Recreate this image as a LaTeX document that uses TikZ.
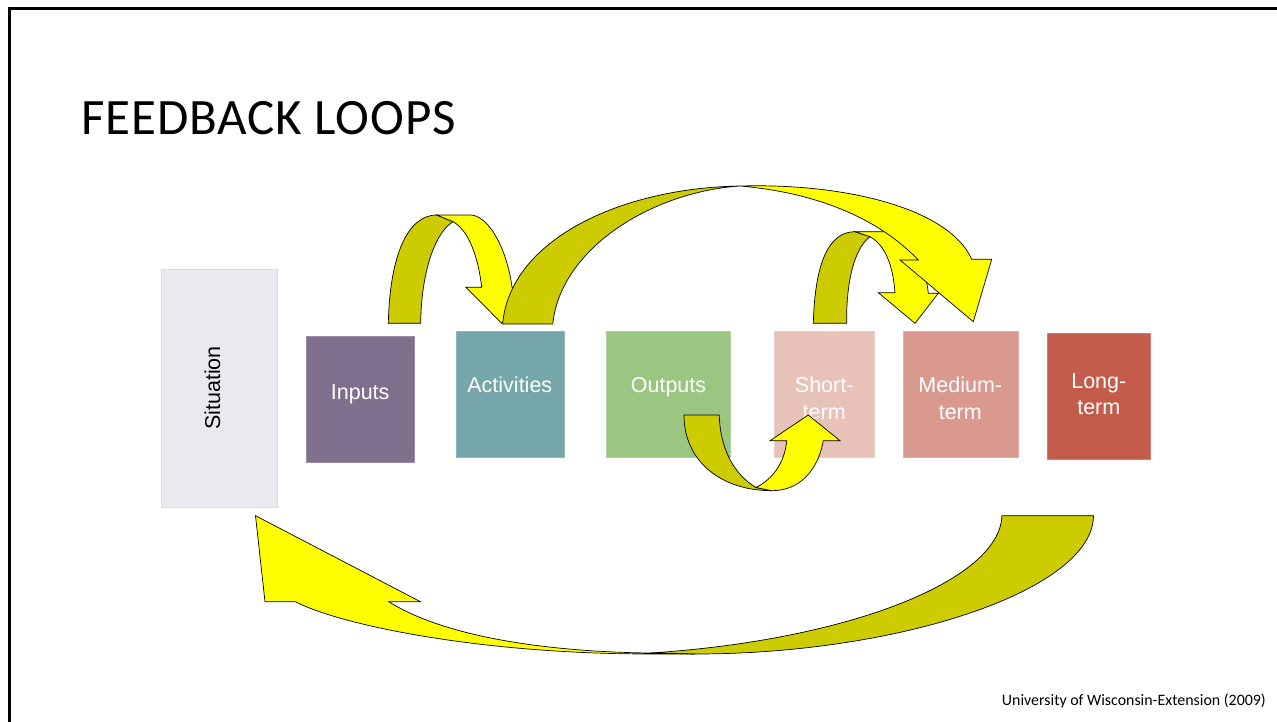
\documentclass[tikz,border=0pt]{standalone}
\usepackage{fontspec}
\setmainfont{Liberation Sans}
\newfontfamily\calibri{Carlito}
\newfontfamily\titlefont[LetterSpace=1.8]{Carlito}
\definecolor{yel}{RGB}{255,255,0}
\definecolor{darkY}{RGB}{204,204,0}
\definecolor{cSit}{RGB}{233,234,240}
\definecolor{cSitB}{RGB}{218,222,232}
\definecolor{cIn}{RGB}{127,111,141}
\definecolor{cAct}{RGB}{116,166,170}
\definecolor{cOut}{RGB}{155,198,130}
\definecolor{cShort}{RGB}{232,193,185}
\definecolor{cMed}{RGB}{217,153,142}
\definecolor{cLong}{RGB}{196,92,75}
\begin{document}
\begin{tikzpicture}[x=1pt,y=-1pt,
  box/.style={fill=#1, draw=#1!80!white, line width=0.8pt, inner sep=0pt, outer sep=0pt},
  back/.style={fill=darkY, draw=black, line width=0.7pt, line join=round},
  front/.style={fill=yel, draw=black, line width=0.7pt, line join=miter},
  lbl/.style={text=white, font=\fontsize{21.5}{26.6}\selectfont, inner sep=0pt, anchor=base},
  frame/.style={draw=black, line width=2.6pt}]
\useasboundingbox (0,0) rectangle (1277,722);
\fill[white] (0,0) rectangle (1277,722);
\draw[frame] (9.3,722) -- (9.3,8.7) -- (1277,8.7);

% title and credit
\node[anchor=base west, inner sep=0pt, font=\titlefont\fontsize{51}{60}\selectfont] (title) at (81,135) {FEEDBACK LOOPS};
\node[anchor=base east, inner sep=0pt, font=\calibri\fontsize{15.9}{18}\selectfont] (credit) at (1266,705) {University of Wisconsin-Extension (2009)};

% boxes
\node[box=cSit, draw=cSitB, minimum width=115.6pt, minimum height=238.4pt] (situation) at (219.5,388.5) {};
\node[box=cIn, minimum width=107.7pt, minimum height=125.6pt] (inputs) at (360.15,399.5) {};
\node[box=cAct, minimum width=107.6pt, minimum height=125.6pt] (activities) at (510.1,394.5) {};
\node[box=cOut, minimum width=123.7pt, minimum height=125.6pt] (outputs) at (668.5,394.5) {};
\node[box=cShort, minimum width=100pt, minimum height=125.6pt] (short) at (824.3,394.5) {};
\node[box=cMed, minimum width=115pt, minimum height=125.6pt] (medium) at (960.8,394.5) {};
\node[box=cLong, minimum width=103.4pt, minimum height=125.7pt] (long) at (1099,396.15) {};

% labels
\node[lbl, text=black, rotate=90] (situation-t) at (220,388) {Situation};
\node[lbl] (inputs-t) at (360.15,399.3) {Inputs};
\node[lbl] (activities-t) at (509.8,392.7) {Activities};
\node[lbl] (outputs-t) at (668.5,392.7) {Outputs};
\node[lbl] (short-t1) at (824.2,392.7) {Short-};
\node[lbl] (short-t2) at (824.2,419.3) {term};
\node[lbl] (medium-t1) at (960.3,392.7) {Medium-};
\node[lbl] (medium-t2) at (960.3,419.3) {term};
\node[lbl] (long-t1) at (1098.8,388.3) {Long-};
\node[lbl] (long-t2) at (1098.8,414) {term};

% arrow 1: inputs -> activities
\path[back] (388.3,323.3) .. controls (390,250) and (410,215) .. (436.7,215)
  -- (453,221.7) .. controls (432,235) and (421,280) .. (420.7,323.3) -- cycle;
\path[front] (436.7,215) -- (471.7,215) .. controls (492,218) and (508,255) .. (512,287.3)
  -- (528,287.3) -- (501.7,323.3) -- (466,287.3) -- (481.7,287.3)
  .. controls (478,255) and (468,230) .. (453,221.7) -- cycle;

% arrow 3: short-term -> medium-term
\path[back] (813.3,323.3) .. controls (815,260) and (830,231.7) .. (855,231.7)
  -- (870,236.7) .. controls (852,250) and (846,290) .. (846.7,323.3) -- cycle;
\path[front] (855,231.7) -- (888.3,231.7) .. controls (910,236) and (925,262) .. (928.3,293.3)
  -- (938.3,293.3) -- (915,323.3) -- (878.3,292.7) -- (895,292.7)
  .. controls (893,265) and (885,245) .. (870,236.7) -- cycle;

% arrow 2: activities -> medium-term
\path[back] (502.6,324) .. controls (510,240) and (620,188) .. (740,186)
  .. controls (650,192) and (560,250) .. (552.8,324) -- cycle;
\path[front] (740,186) .. controls (850,183) and (950,210) .. (971.7,259.3)
  -- (991.7,259.3) -- (973.3,321.7) -- (900,260) -- (918.3,260)
  .. controls (880,220) and (820,193) .. (740,186) -- cycle;

% arrow 4: outputs -> short-term
\path[back] (684,415) .. controls (684,462) and (722,490.7) .. (771.7,490.7)
  -- (756,487.5) .. controls (735,475) and (720,450) .. (719.3,415) -- cycle;
\path[front] (756,487.5) .. controls (775,478) and (785,460) .. (786.7,440.7)
  -- (770,440.7) -- (808.3,415) -- (840,440.7) -- (823.3,440.7)
  .. controls (818,470) and (800,490.7) .. (771.7,490.7) -- cycle;

% arrow 5: long-term -> situation
\path[back] (1001.9,515.7) -- (1093.5,515.7) .. controls (1093,590) and (900,654) .. (695,654)
  -- (650.6,653) .. controls (850,640) and (1000,580) .. (1001.9,515.7) -- cycle;
\path[front] (695,654) -- (650.6,654) .. controls (480,654) and (340,625) .. (295.5,601.7)
  -- (265,601.7) -- (255.5,515.7) -- (420.4,601.7) -- (388.7,601.7)
  .. controls (450,640) and (560,652) .. (650.6,653) -- cycle;
\end{tikzpicture}
\end{document}
